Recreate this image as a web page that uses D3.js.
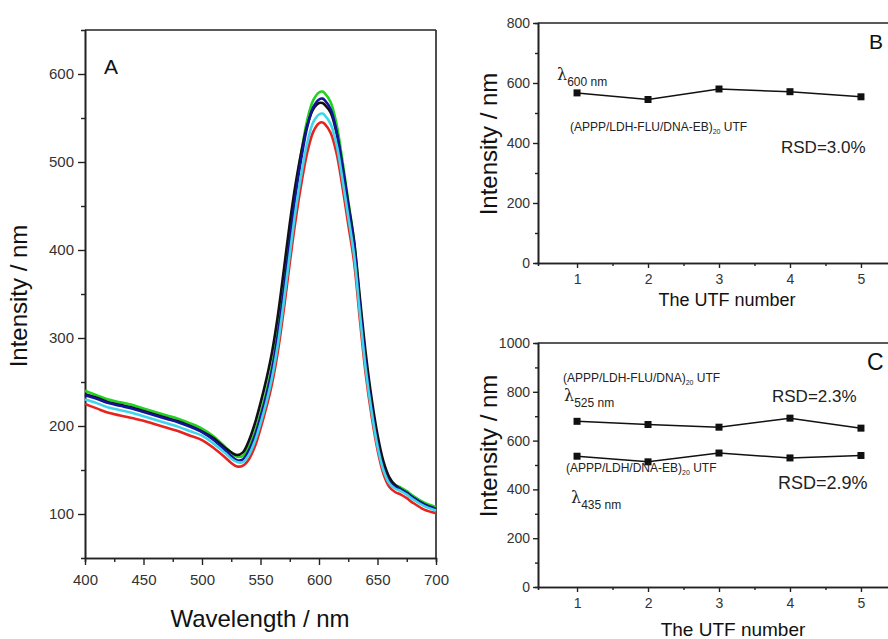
<!DOCTYPE html>
<html>
<head>
<meta charset="utf-8">
<script src="https://cdn.jsdelivr.net/npm/d3@7"></script>
<style>
  html, body { margin: 0; padding: 0; background: #fff; }
  svg { display: block; font-family: Arial, "Liberation Sans", Helvetica, sans-serif; }
  .tick text { fill: #333; }
</style>
</head>
<body>
<svg id="chart" width="888" height="639"></svg>
<script>
// ---- Panel A: emission spectra of five films ----
const wavelengths = [400,410,420,430,440,450,460,470,480,490,500,510,520,525,530,535,540,545,550,555,560,565,570,575,580,585,590,595,600,603,605,610,615,620,625,630,635,640,645,650,655,660,665,670,675,680,690,700];
const specRed   = [225,220,215,212,209,206,202,198,194,189,184,175,164,158,154,155,162,176,197,221,249,286,333,385,434,476,511,534,544,545,543,533,510,472,429,386,320,258,211,173,146,131,125,122,118,113,105,101];
const specGreen = [240,235,230,227,224,220,216,212,208,203,197,188,176,170,165,166,176,192,214,239,269,309,359,415,468,512,548,570,579,580,578,568,543,502,456,410,339,273,223,183,155,139,133,130,126,121,113,108];
const specBlack = [236,232,227,224,221,217,213,209,205,200,194,186,175,170,167,170,183,202,226,253,285,327,378,430,475,512,542,560,567,567,565,556,533,496,453,410,345,282,231,190,160,142,133,128,124,119,111,105];
const specBlue  = [235,231,226,223,220,216,212,208,204,199,193,184,172,166,161,162,172,188,210,235,265,305,355,410,462,505,540,562,571,572,570,560,535,495,450,405,335,270,220,180,152,137,131,128,124,119,111,106];
const specCyan  = [230,226,221,218,215,211,207,203,199,194,189,180,169,163,159,159,167,182,203,227,256,294,342,395,445,487,522,545,554,555,553,543,520,481,438,394,327,264,216,177,150,135,129,126,122,117,109,104];
const spectra = [
  { values: specRed,   color: "#e8231f" },
  { values: specGreen, color: "#1fd41f" },
  { values: specBlack, color: "#111111" },
  { values: specBlue,  color: "#14149a" },
  { values: specCyan,  color: "#3fd6ea" }
];
const xTicksA = [400,450,500,550,600,650,700];
const yTicksA = [100,200,300,400,500,600];

// ---- Panel B: intensity at 600 nm for five films ----
const utfNumbers = [1,2,3,4,5];
const intensity600 = [567,545,580,571,554];
const yTicksB = [0,200,400,600,800];

// ---- Panel C: intensities at 525 nm and 435 nm ----
const intensity525 = [679,666,655,692,651];
const intensity435 = [536,513,549,529,539];
const yTicksC = [0,200,400,600,800,1000];

const svg = d3.select("#chart");
const AX = "#222";

function styleAxis(g) {
  g.select(".domain").attr("stroke", AX).attr("stroke-width", 1.6);
  g.selectAll(".tick line").attr("stroke", AX).attr("stroke-width", 1.4);
}

// ================= Panel A =================
const xA = d3.scaleLinear().domain([400, 700]).range([85, 436]);
const yA = d3.scaleLinear().domain([50, 650]).range([558, 30]);

const gA = svg.append("g");

// minor ticks
gA.append("g").attr("transform", "translate(0,558)")
  .call(d3.axisBottom(xA).tickValues(d3.range(425, 700, 50)).tickSize(4).tickFormat(""))
  .call(styleAxis);
gA.append("g").attr("transform", "translate(85,0)")
  .call(d3.axisLeft(yA).tickValues([150,250,350,450,550]).tickSize(4).tickFormat(""))
  .call(styleAxis);

gA.append("g").attr("transform", "translate(0,558)")
  .call(d3.axisBottom(xA).tickValues(xTicksA).tickSize(7).tickSizeOuter(0).tickPadding(9))
  .call(styleAxis)
  .selectAll("text").attr("font-size", 15);
gA.append("g").attr("transform", "translate(85,0)")
  .call(d3.axisLeft(yA).tickValues(yTicksA).tickSize(7).tickSizeOuter(0).tickPadding(4))
  .call(styleAxis)
  .selectAll("text").attr("font-size", 15);

// top and right frame
gA.append("line").attr("x1", xA(400)).attr("x2", xA(700)).attr("y1", yA(650)).attr("y2", yA(650))
  .attr("stroke", AX).attr("stroke-width", 1.6);
gA.append("line").attr("x1", xA(700)).attr("x2", xA(700)).attr("y1", yA(650)).attr("y2", yA(50))
  .attr("stroke", AX).attr("stroke-width", 1.6);

const lineA = d3.line()
  .x((d, i) => xA(wavelengths[i]))
  .y(d => yA(d))
  .curve(d3.curveCatmullRom.alpha(0.5));

spectra.forEach(s => {
  gA.append("path")
    .attr("d", lineA(s.values))
    .attr("fill", "none")
    .attr("stroke", s.color)
    .attr("stroke-width", 2.6)
    .attr("stroke-linejoin", "round");
});

gA.append("text").attr("x", 104).attr("y", 74).attr("font-size", 21).attr("fill", "#111").text("A");
gA.append("text").attr("x", 260).attr("y", 627).attr("text-anchor", "middle")
  .attr("font-size", 24).attr("fill", "#111").text("Wavelength / nm");
gA.append("text").attr("transform", "translate(27,296) rotate(-90)").attr("text-anchor", "middle")
  .attr("font-size", 24).attr("fill", "#111").text("Intensity / nm");

// ================= Panels B and C shared helpers =================
function panel(g, x, y, yTicks, yMinor, top, bottom) {
  g.append("g").attr("transform", `translate(0,${bottom})`)
    .call(d3.axisBottom(x).tickValues([1.5,2.5,3.5,4.5]).tickSize(3).tickFormat(""))
    .call(styleAxis);
  g.append("g").attr("transform", "translate(538,0)")
    .call(d3.axisLeft(y).tickValues(yMinor).tickSize(3).tickFormat(""))
    .call(styleAxis);
  g.append("g").attr("transform", `translate(0,${bottom})`)
    .call(d3.axisBottom(x).tickValues(utfNumbers).tickSize(5).tickSizeOuter(0).tickPadding(6).tickFormat(d3.format("d")))
    .call(styleAxis)
    .selectAll("text").attr("font-size", 14);
  g.append("g").attr("transform", "translate(538,0)")
    .call(d3.axisLeft(y).tickValues(yTicks).tickSize(5).tickSizeOuter(0).tickPadding(3).tickFormat(d3.format("d")))
    .call(styleAxis)
    .selectAll("text").attr("font-size", 14);
  g.append("line").attr("x1", 538).attr("x2", 900).attr("y1", top).attr("y2", top)
    .attr("stroke", AX).attr("stroke-width", 1.6);
}

function series(g, x, y, vals) {
  g.append("path")
    .attr("d", d3.line().x((d, i) => x(utfNumbers[i])).y(d => y(d))(vals))
    .attr("fill", "none").attr("stroke", "#111").attr("stroke-width", 1.5);
  g.selectAll(null).data(vals).enter().append("rect")
    .attr("x", (d, i) => x(utfNumbers[i]) - 3.5)
    .attr("y", d => y(d) - 3.5)
    .attr("width", 7).attr("height", 7).attr("fill", "#111");
}

function lambdaLabel(g, xp, yp, sub) {
  const t = g.append("text").attr("x", xp).attr("y", yp).attr("fill", "#222");
  t.append("tspan").attr("font-family", "'DejaVu Serif', 'Liberation Serif', serif").attr("font-size", 16).text("λ");
  t.append("tspan").attr("font-size", 12).attr("dy", 6).text(sub);
}

function filmLabel(g, xp, yp, main) {
  const t = g.append("text").attr("x", xp).attr("y", yp).attr("fill", "#222").attr("font-size", 12);
  t.append("tspan").text(main);
  t.append("tspan").attr("font-size", 7).attr("dy", 3).text("20");
  t.append("tspan").attr("dy", -3).text(" UTF");
}

// ================= Panel B =================
const xB = d3.scaleLinear().domain([0.45, 5.55]).range([538, 900]);
const yB = d3.scaleLinear().domain([0, 800]).range([263, 23]);
const gB = svg.append("g");
panel(gB, xB, yB, yTicksB, [100,300,500,700], 23, 263);
series(gB, xB, yB, intensity600);
lambdaLabel(gB, 557, 80, "600 nm");
filmLabel(gB, 570, 131, "(APPP/LDH-FLU/DNA-EB)");
gB.append("text").attr("x", 781).attr("y", 153).attr("font-size", 17).attr("fill", "#222").text("RSD=3.0%");
gB.append("text").attr("x", 869).attr("y", 49).attr("font-size", 21).attr("fill", "#111").text("B");
gB.append("text").attr("x", 727).attr("y", 306).attr("text-anchor", "middle")
  .attr("font-size", 18).attr("fill", "#111").text("The UTF number");
gB.append("text").attr("transform", "translate(497,144) rotate(-90)").attr("text-anchor", "middle")
  .attr("font-size", 24).attr("fill", "#111").text("Intensity / nm");

// ================= Panel C =================
const xC = d3.scaleLinear().domain([0.45, 5.55]).range([538, 900]);
const yC = d3.scaleLinear().domain([0, 1000]).range([587, 343]);
const gC = svg.append("g");
panel(gC, xC, yC, yTicksC, [100,300,500,700,900], 343, 587);
series(gC, xC, yC, intensity525);
series(gC, xC, yC, intensity435);
filmLabel(gC, 563, 382, "(APPP/LDH-FLU/DNA)");
lambdaLabel(gC, 564, 401, "525 nm");
gC.append("text").attr("x", 772).attr("y", 402).attr("font-size", 17).attr("fill", "#222").text("RSD=2.3%");
filmLabel(gC, 566, 472, "(APPP/LDH/DNA-EB)");
lambdaLabel(gC, 571, 503, "435 nm");
gC.append("text").attr("x", 778).attr("y", 489).attr("font-size", 18).attr("fill", "#222").text("RSD=2.9%");
gC.append("text").attr("x", 867).attr("y", 370).attr("font-size", 23).attr("fill", "#111").text("C");
gC.append("text").attr("x", 733).attr("y", 636).attr("text-anchor", "middle")
  .attr("font-size", 19).attr("fill", "#111").text("The UTF number");
gC.append("text").attr("transform", "translate(497,446) rotate(-90)").attr("text-anchor", "middle")
  .attr("font-size", 24).attr("fill", "#111").text("Intensity / nm");
</script>
</body>
</html>
